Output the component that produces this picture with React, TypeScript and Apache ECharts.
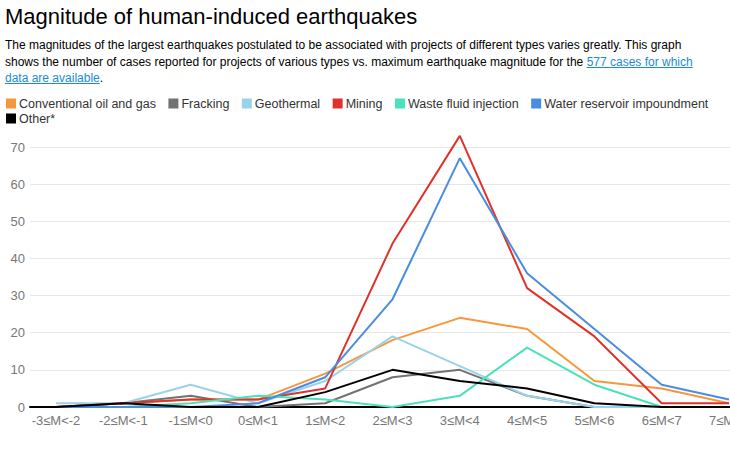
import React, { useEffect, useRef } from "react";
import * as echarts from "echarts";

const categories = ["-3≤M<-2", "-2≤M<-1", "-1≤M<0", "0≤M<1", "1≤M<2", "2≤M<3", "3≤M<4", "4≤M<5", "5≤M<6", "6≤M<7", "7≤M<8"];
const yTicks = [0, 10, 20, 30, 40, 50, 60, 70];

const conventional = [0, 1, 2, 2, 9, 18, 24, 21, 7, 5, 1];
const fracking = [0, 1, 3, 0, 1, 8, 10, 3, 0, 0, 0];
const geothermal = [1, 1, 6, 1, 7, 19, 11, 3, 0, 0, 0];
const mining = [0, 1, 2, 2, 5, 44, 73, 32, 19, 1, 1];
const wasteFluid = [0, 0, 1, 3, 2, 0, 3, 16, 6, 0, 0];
const reservoir = [0, 0, 0, 1, 8, 29, 67, 36, 21, 6, 2];
const other = [0, 1, 0, 0, 4, 10, 7, 5, 1, 0, 0];

const seriesNames = ["Conventional oil and gas", "Fracking", "Geothermal", "Mining", "Waste fluid injection", "Water reservoir impoundment", "Other*"];
const seriesData = [conventional, fracking, geothermal, mining, wasteFluid, reservoir, other];
const seriesColors = ["#f7973c", "#727272", "#9ad2ea", "#e0322b", "#4ae2bb", "#4a8de0", "#000000"];

const FONT = "'Liberation Sans', Arial, sans-serif";

export default function App() {
  const ref = useRef<HTMLDivElement>(null);
  useEffect(() => {
    document.body.style.margin = "0";
    const chart = echarts.init(ref.current!, null, { renderer: "svg" });
    const pxPerUnit = 260 / 70;
    const legendCommon = {
      icon: "rect",
      itemWidth: 10,
      itemHeight: 10,
      itemGap: 12.5,
      padding: 0,
      textStyle: { fontSize: 12.5, color: "#333", fontFamily: FONT, padding: [0, 0, 0, -2] },
      selectedMode: false,
    };
    chart.setOption({
      animation: false,
      textStyle: { fontFamily: FONT },
      legend: [
        { ...legendCommon, data: seriesNames.slice(0, 6), left: 6, top: 97 },
        { ...legendCommon, data: seriesNames.slice(6), left: 6, top: 112 },
      ],
      grid: [
        { left: 30, right: 0, top: 147, height: 260, outerBoundsMode: "none", containLabel: false },
        { left: 56, right: 1, top: 407 - 75 * pxPerUnit, height: 75 * pxPerUnit, outerBoundsMode: "none", containLabel: false },
      ],
      xAxis: [
        {
          gridIndex: 0,
          type: "value",
          min: 0,
          max: 1,
          axisLine: { show: true, lineStyle: { color: "#000", width: 2 } },
          axisTick: { show: false },
          axisLabel: { show: false },
          splitLine: { show: false },
        },
        {
          gridIndex: 1,
          type: "category",
          data: categories,
          boundaryGap: false,
          axisLine: { show: false },
          axisTick: { show: false },
          splitLine: { show: false },
          axisLabel: { interval: 0, color: "#777", fontSize: 13, margin: 7, fontFamily: FONT, hideOverlap: false },
        },
      ],
      yAxis: [
        {
          gridIndex: 0,
          type: "value",
          min: yTicks[0],
          max: yTicks[yTicks.length - 1],
          interval: 10,
          axisLine: { show: false },
          axisTick: { show: false },
          axisLabel: { color: "#777", fontSize: 13, margin: 5, fontFamily: FONT },
          splitLine: { show: true, lineStyle: { color: "#e6e6e6", width: 1 } },
        },
        {
          gridIndex: 1,
          type: "value",
          min: 0,
          max: 75,
          show: false,
          splitLine: { show: false },
        },
      ],
      series: seriesNames.map((name, i) => ({
        name,
        type: "line",
        xAxisIndex: 1,
        yAxisIndex: 1,
        data: seriesData[i],
        symbol: "none",
        color: seriesColors[i],
        lineStyle: { width: 2, color: seriesColors[i] },
      })),
    });
    return () => chart.dispose();
  }, []);

  return (
    <div style={{ position: "relative", width: 730, height: 451, overflow: "hidden", fontFamily: FONT }}>
      <div ref={ref} style={{ position: "absolute", left: 0, top: 0, width: 730, height: 451 }} />
      <div
        style={{
          position: "absolute",
          left: 5,
          top: 3,
          fontSize: 22,
          lineHeight: "28px",
          color: "#000",
          whiteSpace: "nowrap",
        }}
      >
        Magnitude of human-induced earthquakes
      </div>
      <div
        style={{
          position: "absolute",
          left: 5,
          top: 37,
          fontSize: 12,
          lineHeight: "16.5px",
          color: "#000",
          whiteSpace: "nowrap",
        }}
      >
        The magnitudes of the largest earthquakes postulated to be associated with projects of different types varies greatly. This graph
        <br />
        shows the number of cases reported for projects of various types vs. maximum earthquake magnitude for the{" "}
        <a href="#" style={{ color: "#1a8bd5", textDecoration: "underline" }}>
          577 cases for which
          <br />
          data are available
        </a>
        .
      </div>
    </div>
  );
}
